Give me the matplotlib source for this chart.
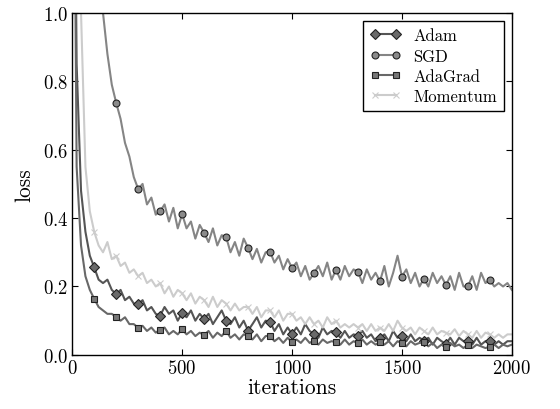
import numpy as np
import matplotlib
matplotlib.use('Agg')
import matplotlib.pyplot as plt

plt.rcParams['font.family'] = 'cmr10'
plt.rcParams['mathtext.fontset'] = 'cm'
plt.rcParams['axes.formatter.use_mathtext'] = True

# iteration grid, one reading every 20 iterations
iterations = np.arange(0, 2001, 20)

sgd = [2.30, 2.27, 2.20, 2.08, 1.88, 1.60, 1.28, 1.00, 0.88, 0.79,
       0.737, 0.69, 0.62, 0.58, 0.52, 0.485, 0.50, 0.44, 0.46, 0.41,
       0.42, 0.44, 0.39, 0.43, 0.37, 0.412, 0.37, 0.39, 0.34, 0.38,
       0.357, 0.33, 0.37, 0.32, 0.35, 0.345, 0.30, 0.33, 0.29, 0.34,
       0.313, 0.28, 0.31, 0.27, 0.30, 0.302, 0.27, 0.29, 0.25, 0.28,
       0.254, 0.27, 0.23, 0.26, 0.22, 0.239, 0.26, 0.23, 0.27, 0.22,
       0.249, 0.22, 0.26, 0.23, 0.25, 0.243, 0.21, 0.25, 0.22, 0.24,
       0.215, 0.26, 0.20, 0.24, 0.29, 0.229, 0.25, 0.21, 0.24, 0.20,
       0.223, 0.20, 0.24, 0.21, 0.23, 0.204, 0.23, 0.19, 0.24, 0.20,
       0.200, 0.23, 0.19, 0.24, 0.21, 0.219, 0.20, 0.21, 0.20, 0.21,
       0.19]

adam = [2.30, 0.85, 0.48, 0.36, 0.29, 0.256, 0.22, 0.21, 0.22, 0.19,
        0.178, 0.19, 0.16, 0.17, 0.15, 0.149, 0.16, 0.13, 0.14, 0.12,
        0.115, 0.14, 0.12, 0.13, 0.10, 0.123, 0.11, 0.13, 0.10, 0.12,
        0.105, 0.12, 0.09, 0.11, 0.13, 0.10, 0.09, 0.11, 0.08, 0.10,
        0.071, 0.09, 0.11, 0.08, 0.10, 0.097, 0.07, 0.09, 0.06, 0.08,
        0.061, 0.08, 0.06, 0.09, 0.07, 0.061, 0.05, 0.08, 0.06, 0.07,
        0.066, 0.05, 0.07, 0.05, 0.06, 0.056, 0.07, 0.05, 0.06, 0.04,
        0.049, 0.06, 0.04, 0.07, 0.05, 0.056, 0.04, 0.06, 0.04, 0.05,
        0.042, 0.05, 0.03, 0.05, 0.04, 0.032, 0.05, 0.03, 0.05, 0.04,
        0.042, 0.03, 0.05, 0.03, 0.04, 0.042, 0.03, 0.04, 0.03, 0.04,
        0.04]

adagrad = [2.30, 0.55, 0.32, 0.23, 0.19, 0.164, 0.14, 0.13, 0.12, 0.12,
           0.111, 0.10, 0.11, 0.09, 0.09, 0.079, 0.085, 0.07, 0.08, 0.065,
           0.074, 0.08, 0.06, 0.07, 0.06, 0.075, 0.06, 0.07, 0.055, 0.065,
           0.058, 0.07, 0.05, 0.065, 0.055, 0.071, 0.05, 0.06, 0.045, 0.06,
           0.055, 0.045, 0.06, 0.04, 0.055, 0.056, 0.04, 0.05, 0.035, 0.05,
           0.037, 0.045, 0.035, 0.05, 0.035, 0.042, 0.03, 0.045, 0.035, 0.04,
           0.037, 0.03, 0.045, 0.03, 0.04, 0.034, 0.045, 0.03, 0.04, 0.03,
           0.037, 0.03, 0.04, 0.025, 0.04, 0.034, 0.025, 0.04, 0.03, 0.035,
           0.037, 0.025, 0.035, 0.02, 0.03, 0.022, 0.035, 0.025, 0.03, 0.02,
           0.030, 0.02, 0.03, 0.025, 0.02, 0.024, 0.03, 0.02, 0.03, 0.025,
           0.03]

momentum = [2.30, 1.70, 1.00, 0.55, 0.42, 0.36, 0.32, 0.30, 0.33, 0.28,
            0.29, 0.26, 0.27, 0.24, 0.25, 0.23, 0.24, 0.21, 0.22, 0.20,
            0.21, 0.18, 0.20, 0.17, 0.19, 0.18, 0.16, 0.18, 0.15, 0.17,
            0.16, 0.14, 0.17, 0.14, 0.16, 0.15, 0.13, 0.15, 0.13, 0.14,
            0.14, 0.12, 0.14, 0.11, 0.13, 0.13, 0.11, 0.13, 0.10, 0.12,
            0.12, 0.10, 0.11, 0.09, 0.11, 0.09, 0.10, 0.08, 0.11, 0.09,
            0.10, 0.08, 0.09, 0.08, 0.09, 0.08, 0.09, 0.07, 0.09, 0.07,
            0.08, 0.07, 0.09, 0.07, 0.10, 0.08, 0.07, 0.08, 0.06, 0.08,
            0.07, 0.06, 0.08, 0.06, 0.07, 0.065, 0.06, 0.075, 0.055, 0.07,
            0.06, 0.05, 0.07, 0.05, 0.065, 0.06, 0.05, 0.06, 0.05, 0.06,
            0.06]

names = ['Adam', 'SGD', 'AdaGrad', 'Momentum']
series = [adam, sgd, adagrad, momentum]
markers = ['D', 'o', 's', 'x']
line_colors = ['#555555', '#858585', '#686868', '#cccccc']
face_colors = ['#6a6a6a', '#8a8a8a', '#777777', '#cccccc']

fig = plt.figure(figsize=(5.6, 4.1), dpi=100)
ax = fig.add_axes([0.129, 0.132, 0.785, 0.834])

# marker every 100 iterations, none on the last point
mark_idx = list(range(0, len(iterations) - 1, 5))

for name, y, m, lc, fc in zip(names, series, markers, line_colors, face_colors):
    ax.plot(iterations, y, color=lc, lw=1.5, marker=m, markevery=mark_idx,
            markersize=5 if m != 'D' else 5.5, markerfacecolor=fc,
            markeredgecolor='#222222' if m != 'x' else lc,
            markeredgewidth=0.8, label=name)

ax.set_xlim(0, 2000)
ax.set_ylim(0, 1.0)
ax.set_xticks([0, 500, 1000, 1500, 2000])
ax.set_yticks([0.0, 0.2, 0.4, 0.6, 0.8, 1.0])
ax.set_xlabel('iterations', fontsize=15.5, labelpad=0)
ax.set_ylabel('loss', fontsize=15.5, labelpad=6)
ax.tick_params(direction='in', top=True, right=True, length=4,
               labelsize=13.5, pad=3)
for s in ax.spines.values():
    s.set_linewidth(1.0)

leg = ax.legend(loc='upper right', numpoints=2, fancybox=False,
                framealpha=1, edgecolor='black', fontsize=12,
                handlelength=1.9, borderpad=0.4, labelspacing=0.3,
                handletextpad=0.7, borderaxespad=0.5)
leg.get_frame().set_linewidth(1.0)

fig.savefig('out.png', dpi=100)
